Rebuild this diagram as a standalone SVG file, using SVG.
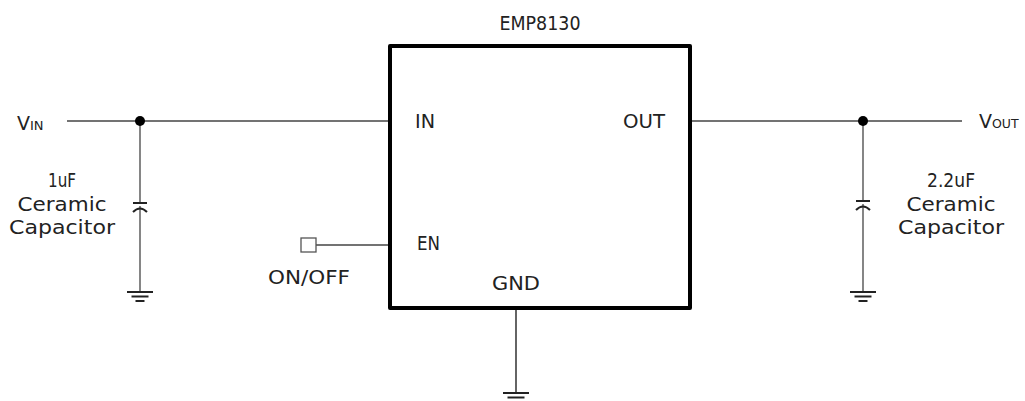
<svg xmlns="http://www.w3.org/2000/svg" width="1025" height="401" viewBox="0 0 1025 401">
<style>
  text { font-family: "DejaVu Sans", "Liberation Sans", sans-serif; font-size: 19px; fill: #222; }
  .wire { stroke: #444; stroke-width: 1.3; fill: none; }
  .chip { stroke: #000; stroke-width: 4; fill: #fff; stroke-linejoin: round; }
  .dot { fill: #000; }
  .gnd { stroke: #222; stroke-width: 2; }
  .cap { stroke: #222; stroke-width: 2; fill: none; }
</style>
<defs>
  <g id="ground">
    <line class="gnd" x1="-13" y1="0" x2="13" y2="0"/>
    <line class="gnd" x1="-8.5" y1="4.5" x2="8.5" y2="4.5"/>
    <line class="gnd" x1="-4.5" y1="9" x2="4.5" y2="9"/>
  </g>
  <g id="capsym">
    <line class="cap" x1="-7" y1="0" x2="7" y2="0"/>
    <path class="cap" d="M-7,9 Q0,2 7,9"/>
  </g>
</defs>

<g id="connectors">
  <line class="wire" x1="67" y1="121" x2="390" y2="121"/>
  <line class="wire" x1="140" y1="121" x2="140" y2="203"/>
  <line class="wire" x1="140" y1="206" x2="140" y2="292"/>
  <line class="wire" x1="690" y1="121" x2="962" y2="121"/>
  <line class="wire" x1="863" y1="121" x2="863" y2="201"/>
  <line class="wire" x1="863" y1="204" x2="863" y2="292"/>
  <line class="wire" x1="316" y1="245" x2="390" y2="245"/>
  <line class="wire" x1="516" y1="308" x2="516" y2="393" style="stroke:#111"/>
</g>

<g id="chip">
  <rect class="chip" x="390" y="46" width="300" height="262"/>
  <text x="540" y="30" text-anchor="middle" textLength="81" lengthAdjust="spacingAndGlyphs">EMP8130</text>
  <text x="415" y="128" textLength="20" lengthAdjust="spacingAndGlyphs">IN</text>
  <text x="623" y="128" textLength="42" lengthAdjust="spacingAndGlyphs">OUT</text>
  <text x="417" y="250" textLength="23" lengthAdjust="spacingAndGlyphs">EN</text>
  <text x="492" y="290" textLength="48" lengthAdjust="spacingAndGlyphs">GND</text>
</g>

<g id="vin">
  <text x="17" y="130" font-size="18">V<tspan font-size="13">IN</tspan></text>
  <circle class="dot" cx="140" cy="121" r="5"/>
</g>

<g id="cin">
  <use href="#capsym" x="140" y="203"/>
  <text x="62" y="187" text-anchor="middle" textLength="28" lengthAdjust="spacingAndGlyphs">1uF</text>
  <text x="62" y="211" text-anchor="middle" textLength="89" lengthAdjust="spacingAndGlyphs">Ceramic</text>
  <text x="62" y="234" text-anchor="middle" textLength="106" lengthAdjust="spacingAndGlyphs">Capacitor</text>
</g>
<g id="gnd-in"><use href="#ground" x="140" y="292"/></g>

<g id="vout">
  <text x="979" y="128" font-size="17">V<tspan font-size="12.5">OUT</tspan></text>
  <circle class="dot" cx="863" cy="121" r="5"/>
</g>

<g id="cout">
  <use href="#capsym" x="863" y="201"/>
  <text x="951" y="187" text-anchor="middle" textLength="48" lengthAdjust="spacingAndGlyphs">2.2uF</text>
  <text x="951" y="211" text-anchor="middle" textLength="89" lengthAdjust="spacingAndGlyphs">Ceramic</text>
  <text x="951" y="234" text-anchor="middle" textLength="106" lengthAdjust="spacingAndGlyphs">Capacitor</text>
</g>
<g id="gnd-out"><use href="#ground" x="863" y="292"/></g>

<g id="enable">
  <rect x="301" y="238" width="15" height="14" fill="#fff" stroke="#555" stroke-width="1.3"/>
  <text x="268" y="284" textLength="82" lengthAdjust="spacingAndGlyphs">ON/OFF</text>
</g>

<g id="gnd-chip"><use href="#ground" x="516" y="393"/></g>
</svg>
